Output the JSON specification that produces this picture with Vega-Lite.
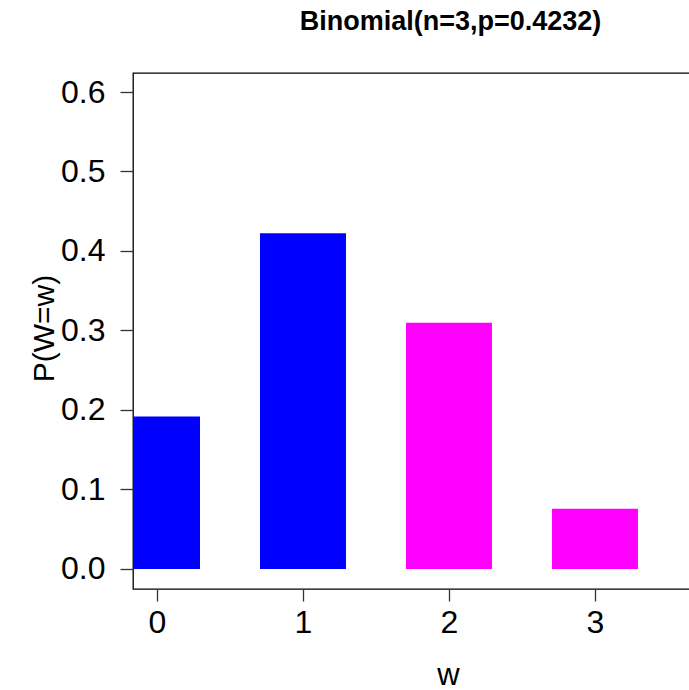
{
  "$schema": "https://vega.github.io/schema/vega-lite/v6.json",
  "autosize": {"type": "none"},
  "padding": {"left": 133, "top": 73, "right": 0, "bottom": 101},
  "width": 557,
  "height": 516,
  "background": "white",
  "title": {
    "text": "Binomial(n=3,p=0.4232)",
    "font": "Liberation Sans",
    "fontSize": 27,
    "fontWeight": "bold",
    "color": "#000000",
    "anchor": "middle",
    "baseline": "alphabetic",
    "offset": 16,
    "dx": 39
  },
  "config": {
    "view": {"stroke": "#000000", "strokeWidth": 1.3},
    "font": "Liberation Sans"
  },
  "data": {
    "values": [
      {"w": 0, "p": 0.1919, "group": "lower"},
      {"w": 1, "p": 0.4224, "group": "lower"},
      {"w": 2, "p": 0.3099, "group": "upper"},
      {"w": 3, "p": 0.0758, "group": "upper"}
    ]
  },
  "transform": [
    {"calculate": "datum.w - 0.2945", "as": "w0"},
    {"calculate": "datum.w + 0.2945", "as": "w1"}
  ],
  "mark": {"type": "rect", "clip": true},
  "encoding": {
    "x": {
      "field": "w0",
      "type": "quantitative",
      "scale": {"domain": [-0.1644, 3.651], "nice": false, "zero": false},
      "axis": {
        "title": "w",
        "values": [0, 1, 2, 3],
        "format": "d",
        "grid": false,
        "domain": false,
        "tickSize": 12,
        "tickColor": "#333333",
        "tickWidth": 1.3,
        "labelFont": "Liberation Sans",
        "labelFontSize": 32,
        "labelColor": "#000000",
        "labelPadding": 6,
        "labelFlush": false,
        "labelOverlap": false,
        "titleFont": "Liberation Sans",
        "titleFontSize": 31,
        "titleFontWeight": "normal",
        "titleColor": "#000000",
        "titleBaseline": "alphabetic",
        "titleX": 315,
        "titleY": 95,
        "titleAnchor": "middle",
        "titleAlign": "center"
      }
    },
    "x2": {"field": "w1"},
    "y": {
      "field": "p",
      "type": "quantitative",
      "scale": {"domain": [-0.02516, 0.6239], "nice": false, "zero": false},
      "axis": {
        "title": "P(W=w)",
        "values": [0, 0.1, 0.2, 0.3, 0.4, 0.5, 0.6],
        "format": ".1f",
        "grid": false,
        "domain": false,
        "tickSize": 13,
        "tickColor": "#333333",
        "tickWidth": 1.3,
        "labelFont": "Liberation Sans",
        "labelFontSize": 32,
        "labelColor": "#000000",
        "labelPadding": 15,
        "labelFlush": false,
        "labelOverlap": false,
        "titleFont": "Liberation Sans",
        "titleFontSize": 30,
        "titleFontWeight": "normal",
        "titleColor": "#000000",
        "titleAngle": -90,
        "titleBaseline": "alphabetic",
        "titleAlign": "center",
        "titleX": -80,
        "titleY": 255
      }
    },
    "y2": {"datum": 0},
    "color": {
      "field": "group",
      "type": "nominal",
      "scale": {"domain": ["lower", "upper"], "range": ["#0000FF", "#FF00FF"]},
      "legend": null
    }
  }
}
